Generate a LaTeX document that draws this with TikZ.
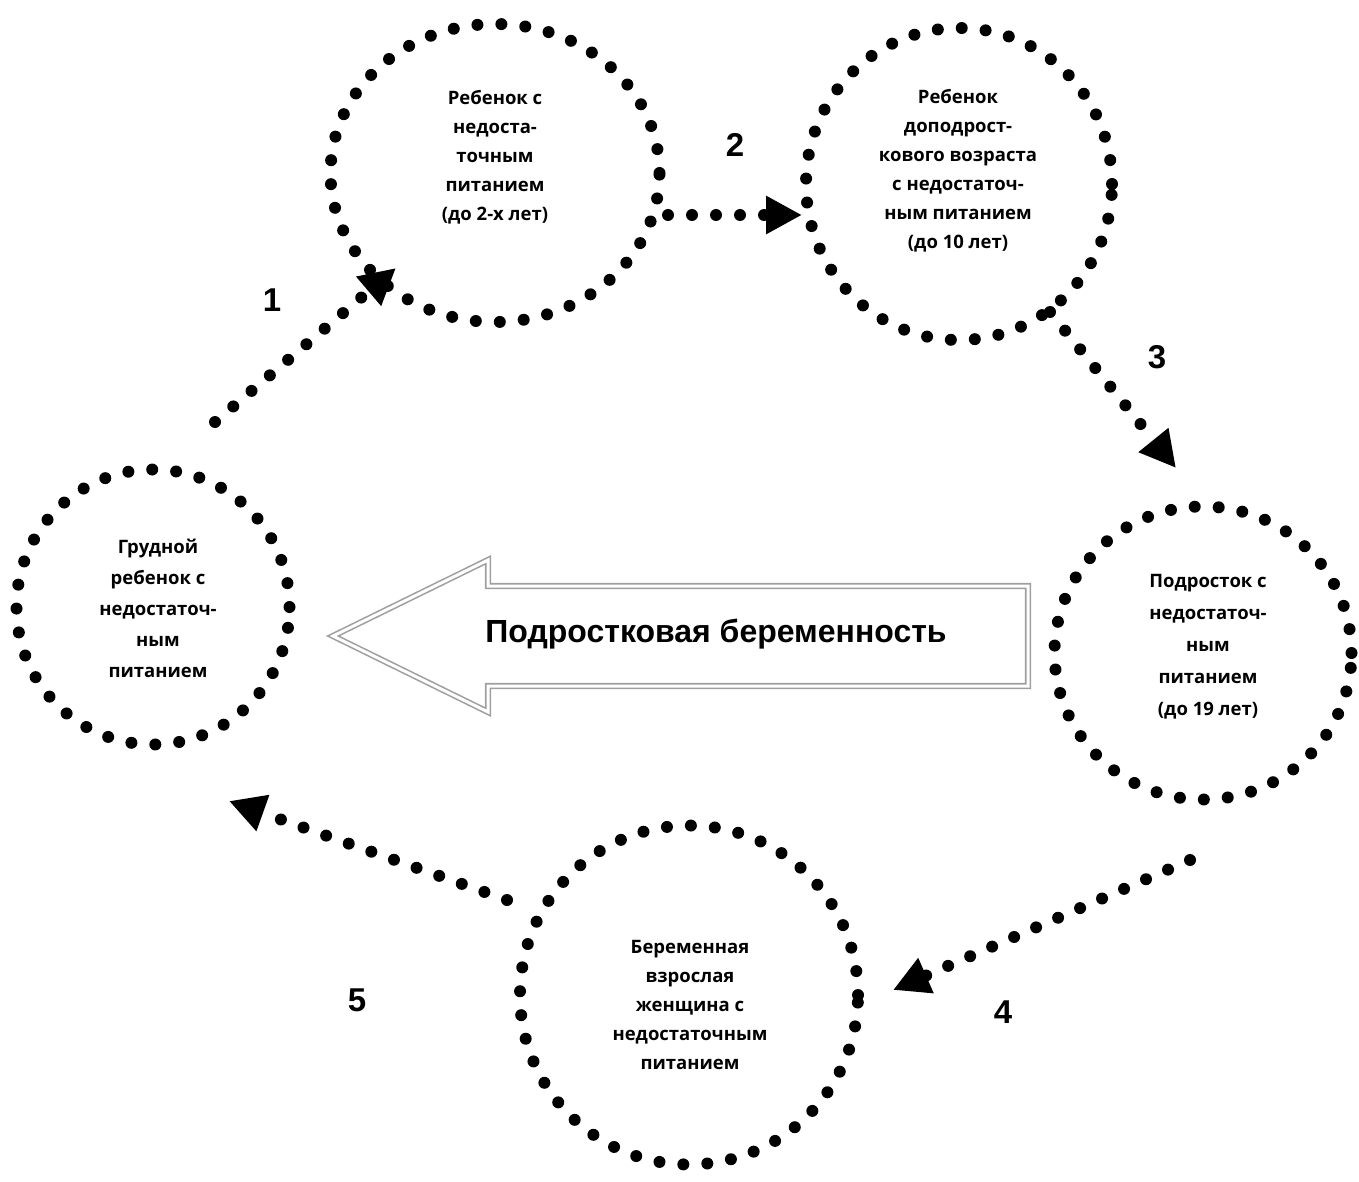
\documentclass[tikz,border=0pt]{standalone}
\usepackage{fontspec}
\setmainfont{Open Sans}
\newfontfamily\arialfont{Liberation Sans}
\usetikzlibrary{shapes.geometric,arrows.meta}
\tikzset{
 dotring/.style={ellipse, draw, line width=12pt, dash pattern=on 0pt off 24pt, line cap=round, inner sep=0pt},
 ringtext/.style={align=center, font=\bfseries\fontsize{18.5}{29}\selectfont},
 dotarrow/.style={line width=12pt, dash pattern=on 0pt off 24pt, line cap=round, -{Triangle[length=36pt,width=36pt]}},
 numlabel/.style={font=\arialfont\bfseries\fontsize{33}{33}\selectfont},
 bigarrow/.style={draw=gray!75, double=white, double distance=3pt, line width=1.6pt, line join=miter},
}
\begin{document}
\begin{tikzpicture}[x=1pt,y=-1pt]
\useasboundingbox (0,0) rectangle (1359,1182);
% rings
\node[dotring, minimum width=329pt, minimum height=298pt] (cA) at (495,173) {};
\node[dotring, minimum width=306pt, minimum height=312pt] (cB) at (959,184) {};
\node[dotring, minimum width=297pt, minimum height=293pt] (cC) at (1203,653) {};
\node[dotring, minimum width=338pt, minimum height=339pt] (cD) at (689,995) {};
\node[dotring, minimum width=273pt, minimum height=275pt] (cE) at (153,607) {};
% texts
\node[ringtext] (tA) at (495,157) {Ребенок с\\недоста-\\точным\\питанием\\(до 2-х лет)};
\node[ringtext] (tB) at (958,171) {Ребенок\\доподрост-\\кового возраста\\с недостаточ-\\ным питанием\\(до 10 лет)};
\node[ringtext, font=\bfseries\fontsize{18.5}{32}\selectfont] (tC) at (1208,647) {Подросток с\\недостаточ-\\ным\\питанием\\(до 19 лет)};
\node[ringtext] (tD) at (690,1005) {Беременная\\взрослая\\женщина с\\недостаточным\\питанием};
\node[ringtext, font=\bfseries\fontsize{18.5}{31}\selectfont] (tE) at (158,608) {Грудной\\ребенок с\\недостаточ-\\ным\\питанием};
% connector ends
\coordinate (s1) at (215,422); \coordinate (e1) at (396,268);
\coordinate (s2) at (668,215); \coordinate (e2) at (802,215);
\coordinate (s3) at (1050,312); \coordinate (e3) at (1176,468);
\coordinate (s4) at (1190,860); \coordinate (e4) at (893,990);
\coordinate (s5) at (507,900); \coordinate (e5) at (229,801);
\draw[dotarrow] (s1) -- (e1);
\draw[dotarrow] (s2) -- (e2);
\draw[dotarrow] (s3) -- (e3);
\draw[dotarrow] (s4) -- (e4);
\draw[dotarrow] (s5) -- (e5);
% numbers
\node[numlabel] (n1) at (272,300) {1};
\node[numlabel] (n2) at (735,145) {2};
\node[numlabel] (n3) at (1157,357) {3};
\node[numlabel] (n4) at (1003,1012) {4};
\node[numlabel] (n5) at (357,1000) {5};
% big arrow
\draw[bigarrow] (333,636) -- (488,560) -- (488,586) -- (1028,586) -- (1028,686) -- (488,686) -- (488,712) -- cycle;
\node[font=\arialfont\bfseries\fontsize{32}{32}\selectfont] (big) at (716,634) {Подростковая беременность};
\end{tikzpicture}
\end{document}
